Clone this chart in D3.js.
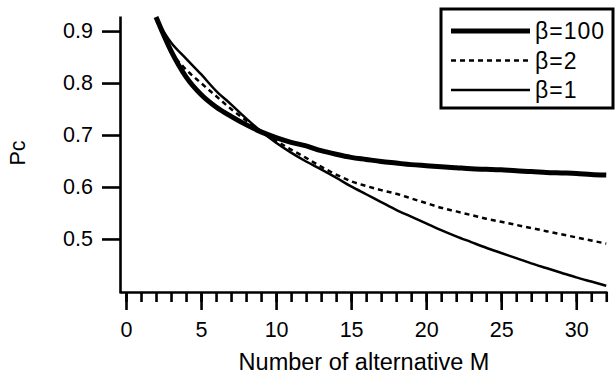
<!DOCTYPE html>
<html>
<head>
<meta charset="utf-8">
<script src="https://cdn.jsdelivr.net/npm/d3@7"></script>
<style>
  body { margin: 0; background: #fff; }
  svg { display: block; font-family: "Liberation Sans", Arial, sans-serif; }
</style>
</head>
<body>
<svg id="chart"></svg>
<script>
// number of alternatives M
const M = d3.range(2, 33);

// Pc, one value per M
const beta100 = [0.927, 0.862, 0.812, 0.778, 0.754, 0.736, 0.720, 0.706, 0.695, 0.686,
  0.679, 0.670, 0.663, 0.657, 0.653, 0.649, 0.646, 0.643, 0.641, 0.639,
  0.637, 0.635, 0.634, 0.633, 0.631, 0.630, 0.628, 0.627, 0.626, 0.624, 0.623];
const beta2 = [0.924, 0.861, 0.826, 0.800, 0.775, 0.750, 0.728, 0.707, 0.689, 0.672,
  0.656, 0.639, 0.624, 0.611, 0.602, 0.594, 0.587, 0.578, 0.569, 0.560,
  0.553, 0.546, 0.539, 0.533, 0.527, 0.521, 0.515, 0.509, 0.503, 0.497, 0.491];
const beta1 = [0.923, 0.878, 0.847, 0.817, 0.785, 0.759, 0.732, 0.707, 0.685, 0.666,
  0.649, 0.634, 0.618, 0.601, 0.586, 0.571, 0.556, 0.543, 0.530, 0.517,
  0.505, 0.494, 0.483, 0.473, 0.463, 0.453, 0.444, 0.435, 0.426, 0.418, 0.410];

const seriesNames = ['\u03b2=100', '\u03b2=2', '\u03b2=1'];
const xTicks = [0, 5, 10, 15, 20, 25, 30];
const yTicks = [0.5, 0.6, 0.7, 0.8, 0.9];
const xTitle = 'Number of alternative M';
const yTitle = 'Pc';

const width = 616;
const height = 381;

const series = [
  {name: seriesNames[0], values: beta100, width: 5, dash: null},
  {name: seriesNames[1], values: beta2, width: 2.5, dash: '5,4'},
  {name: seriesNames[2], values: beta1, width: 2.5, dash: null},
];

const x = d3.scaleLinear().domain([-0.4, 32.05]).range([120, 607]);
const y = d3.scaleLinear().domain([0.396, 0.929]).range([293, 16]);

const svg = d3.select('#chart')
  .attr('width', width)
  .attr('height', height);

// minor ticks on x
svg.append('g')
  .attr('class', 'x-minor')
  .attr('transform', `translate(0,${y.range()[0] - 1})`)
  .call(d3.axisBottom(x).tickValues(d3.range(0, 33)).tickSize(10).tickSizeOuter(0).tickFormat(''))
  .call(g => g.select('.domain').remove());

svg.append('g')
  .attr('class', 'x-axis')
  .attr('transform', `translate(0,${y.range()[0] - 1})`)
  .call(d3.axisBottom(x).tickValues(xTicks).tickSize(18).tickSizeOuter(0).tickPadding(12));

svg.append('g')
  .attr('class', 'y-axis')
  .attr('transform', `translate(${x.range()[0]},0)`)
  .call(d3.axisLeft(y).tickValues(yTicks).tickSize(18).tickSizeOuter(0).tickPadding(9).tickFormat(d3.format('.1f')));

svg.selectAll('.x-axis, .y-axis, .x-minor')
  .call(g => g.selectAll('path, line').attr('stroke', '#000').attr('stroke-width', 2.6))
  .call(g => g.selectAll('text').attr('fill', '#000').style('font-size', '21.5px'));

svg.append('text')
  .attr('x', 364)
  .attr('y', 370)
  .attr('text-anchor', 'middle')
  .style('font-size', '23.5px')
  .text(xTitle);

svg.append('text')
  .attr('transform', `translate(25,153) rotate(-90)`)
  .attr('text-anchor', 'middle')
  .style('font-size', '21.5px')
  .text(yTitle);

const line = d3.line()
  .curve(d3.curveMonotoneX)
  .x((d, i) => x(M[i]))
  .y(d => y(d));

series.forEach(s => {
  svg.append('path')
    .datum(s.values)
    .attr('fill', 'none')
    .attr('stroke', '#000')
    .attr('stroke-width', s.width)
    .attr('stroke-dasharray', s.dash)
    .attr('d', line);
});

// legend
const legend = svg.append('g').attr('transform', 'translate(441,9)');
legend.append('rect')
  .attr('width', 172)
  .attr('height', 99)
  .attr('fill', '#fff')
  .attr('stroke', '#000')
  .attr('stroke-width', 3);

series.forEach((s, i) => {
  const row = legend.append('g').attr('transform', `translate(0,${22 + i * 29.5})`);
  row.append('line')
    .attr('x1', 10).attr('x2', 89)
    .attr('stroke', '#000')
    .attr('stroke-width', s.width)
    .attr('stroke-dasharray', s.dash);
  row.append('text')
    .attr('x', 94)
    .attr('y', 8)
    .style('font-size', '23px')
    .style('letter-spacing', '1px')
    .text(s.name);
});
</script>
</body>
</html>
